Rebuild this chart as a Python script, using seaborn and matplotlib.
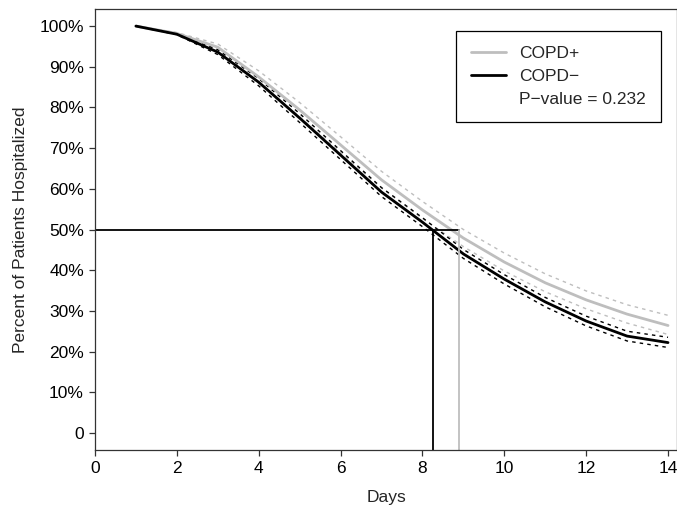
import matplotlib

matplotlib.use("Agg", force=True)
import matplotlib.pyplot as plt
from matplotlib.lines import Line2D
import pandas as pd
import seaborn as sns

days = [1, 2, 3, 4, 5, 6, 7, 8, 9, 10, 11, 12, 13, 14]

copd_pos = [100, 98.2, 94.8, 87.5, 79.4, 70.8, 62.2, 54.8, 47.9, 42.0, 36.9, 32.7, 29.2, 26.4]
copd_pos_hi = [100, 98.4, 95.6, 89.0, 81.2, 72.8, 64.3, 56.9, 50.0, 44.2, 39.1, 34.9, 31.5, 28.9]
copd_pos_lo = [100, 98.0, 94.0, 86.1, 77.7, 68.9, 60.2, 52.7, 45.8, 39.8, 34.7, 30.5, 27.0, 24.2]

copd_neg = [100, 98.0, 93.6, 86.2, 77.4, 68.3, 59.2, 51.8, 44.0, 37.8, 32.2, 27.5, 23.8, 22.2]
copd_neg_hi = [100, 98.1, 94.2, 87.1, 78.5, 69.4, 60.3, 52.9, 45.1, 38.9, 33.3, 28.7, 25.0, 23.5]
copd_neg_lo = [100, 97.9, 93.0, 85.3, 76.3, 67.2, 58.1, 50.7, 42.9, 36.6, 31.0, 26.3, 22.6, 21.0]

median_pos = 8.9
median_neg = 8.25
p_value = 0.232

x_ticks = [0, 2, 4, 6, 8, 10, 12, 14]
y_ticks = [0, 10, 20, 30, 40, 50, 60, 70, 80, 90, 100]
y_labels = ["0"] + [f"{v}%" for v in y_ticks[1:]]

GRAY = "#bebebe"
FS = 12.5

sns.set_style("ticks")
plt.rcParams["font.family"] = ["Liberation Sans", "DejaVu Sans"]
plt.rcParams["font.size"] = FS

df = pd.DataFrame({
    "day": days,
    "pos": copd_pos, "pos_hi": copd_pos_hi, "pos_lo": copd_pos_lo,
    "neg": copd_neg, "neg_hi": copd_neg_hi, "neg_lo": copd_neg_lo,
})

fig = plt.figure(figsize=(6.77, 5.08), dpi=100)
ax = fig.add_axes([95 / 677, 58 / 508, 582 / 677, 441 / 508])

# confidence bands
for col, color in [("pos_hi", GRAY), ("pos_lo", GRAY), ("neg_hi", "black"), ("neg_lo", "black")]:
    sns.lineplot(data=df, x="day", y=col, ax=ax, color=color, linewidth=1.0,
                 linestyle=(0, (2.5, 3)), legend=False)

sns.lineplot(data=df, x="day", y="pos", ax=ax, color=GRAY, linewidth=2.0, legend=False)
sns.lineplot(data=df, x="day", y="neg", ax=ax, color="black", linewidth=2.0, legend=False)

# median lines
ax.plot([0, median_pos], [50, 50], color="black", linewidth=1.3)
ax.plot([median_neg, median_neg], [-4.2, 50], color="black", linewidth=1.3)
ax.plot([median_pos, median_pos], [-4.2, 50], color=GRAY, linewidth=1.3)

ax.set_xlim(0, 582 / 40.93)
ax.set_ylim(-4.2, 104.2)
ax.set_xticks(x_ticks)
ax.set_yticks(y_ticks)
ax.set_yticklabels(y_labels)
ax.tick_params(direction="out", length=4, width=0.9, colors="#333333", labelcolor="black",
               labelsize=FS, pad=4)
for s in ax.spines.values():
    s.set_color("#333333")
    s.set_linewidth(0.9)
ax.set_xlabel("Days", fontsize=FS, labelpad=10)
ax.set_ylabel("Percent of Patients Hospitalized", fontsize=FS, labelpad=8)

handles = [
    Line2D([], [], color=GRAY, linewidth=2.0),
    Line2D([], [], color="black", linewidth=2.0),
    Line2D([], [], color="none"),
]
labels = ["COPD+", "COPD\u2212", f"P\u2212value = {p_value}"]
leg = ax.legend(handles, labels, loc="upper right", bbox_to_anchor=(661 / 677, 1 - 31 / 508),
                bbox_transform=fig.transFigure, borderaxespad=0, fancybox=False, framealpha=1,
                edgecolor="black", handlelength=2.0, handletextpad=0.8,
                labelspacing=0.45, borderpad=0.85, fontsize=FS)
leg.get_frame().set_linewidth(0.9)

fig.savefig("out.png", dpi=100)
plt.close(fig)
